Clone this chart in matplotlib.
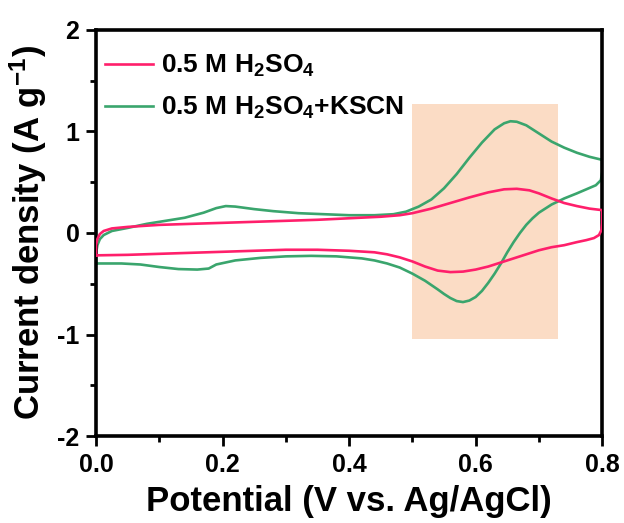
import matplotlib
matplotlib.use("Agg")
import matplotlib.pyplot as plt
from matplotlib.ticker import MultipleLocator

plt.rcParams['font.family'] = ['Liberation Sans', 'DejaVu Sans']
plt.rcParams['font.weight'] = 'bold'
plt.rcParams['mathtext.fontset'] = 'custom'
plt.rcParams['mathtext.rm'] = 'Liberation Sans:bold'
plt.rcParams['mathtext.it'] = 'Liberation Sans:bold'
plt.rcParams['mathtext.bf'] = 'Liberation Sans:bold'
plt.rcParams['mathtext.default'] = 'rm'

# CV loop, 0.5 M H2SO4: anodic sweep then cathodic sweep
h2so4_v = [0.000, 0.000, 0.002, 0.006, 0.012, 0.025, 0.05, 0.10, 0.15, 0.20, 0.25, 0.30,
           0.35, 0.40, 0.45, 0.48, 0.50, 0.53, 0.56, 0.59, 0.62, 0.645, 0.665, 0.685,
           0.70, 0.72, 0.74, 0.76, 0.78, 0.80,
           0.80, 0.799, 0.795, 0.787, 0.775, 0.76, 0.74, 0.72, 0.70, 0.68, 0.66, 0.64,
           0.62, 0.60, 0.58, 0.56, 0.54, 0.52, 0.50, 0.48, 0.46, 0.44, 0.40, 0.35, 0.30,
           0.25, 0.20, 0.15, 0.10, 0.05, 0.00]
h2so4_j = [-0.22, -0.12, -0.06, -0.01, 0.02, 0.045, 0.06, 0.08, 0.09, 0.10, 0.11, 0.12,
           0.13, 0.145, 0.16, 0.175, 0.195, 0.24, 0.295, 0.35, 0.40, 0.43, 0.435, 0.42,
           0.39, 0.34, 0.295, 0.265, 0.24, 0.225,
           0.10, 0.03, -0.02, -0.05, -0.07, -0.09, -0.12, -0.14, -0.17, -0.21, -0.25, -0.29,
           -0.33, -0.36, -0.38, -0.385, -0.37, -0.33, -0.28, -0.24, -0.21, -0.19, -0.175,
           -0.165, -0.165, -0.175, -0.185, -0.195, -0.205, -0.215, -0.22]

# CV loop, 0.5 M H2SO4 + KSCN
kscn_v = [0.000, 0.000, 0.002, 0.006, 0.012, 0.025, 0.05, 0.08, 0.11, 0.14, 0.17, 0.19,
          0.205, 0.22, 0.25, 0.28, 0.32, 0.36, 0.40, 0.44, 0.47, 0.49, 0.51, 0.53, 0.55,
          0.57, 0.59, 0.61, 0.63, 0.645, 0.655, 0.665, 0.68, 0.70, 0.72, 0.74, 0.76, 0.78,
          0.80,
          0.80, 0.798, 0.79, 0.775, 0.76, 0.74, 0.72, 0.70, 0.69, 0.68, 0.67, 0.66, 0.65,
          0.64, 0.63, 0.62, 0.61, 0.60, 0.59, 0.58, 0.57, 0.56, 0.55, 0.54, 0.52, 0.50,
          0.48, 0.46, 0.44, 0.42, 0.38, 0.34, 0.30, 0.26, 0.22, 0.19, 0.178, 0.16, 0.13,
          0.10, 0.07, 0.04, 0.00]
kscn_j = [-0.30, -0.20, -0.12, -0.06, -0.02, 0.02, 0.05, 0.09, 0.12, 0.15, 0.20, 0.245,
          0.265, 0.26, 0.235, 0.215, 0.195, 0.185, 0.175, 0.175, 0.185, 0.21, 0.26, 0.33,
          0.44, 0.58, 0.74, 0.89, 1.02, 1.08, 1.10, 1.095, 1.06, 0.98, 0.90, 0.84, 0.79,
          0.75, 0.72,
          0.60, 0.52, 0.47, 0.43, 0.39, 0.34, 0.28, 0.20, 0.145, 0.08, 0.0, -0.09, -0.19,
          -0.30, -0.40, -0.49, -0.57, -0.63, -0.665, -0.68, -0.67, -0.64, -0.60, -0.555,
          -0.47, -0.40, -0.34, -0.30, -0.27, -0.25, -0.23, -0.225, -0.23, -0.245, -0.27,
          -0.31, -0.35, -0.36, -0.355, -0.335, -0.31, -0.30, -0.30]

# Highlighted redox window
band_v = (0.50, 0.73)
band_j = (-1.04, 1.27)

fig = plt.figure(figsize=(6.24, 5.23), dpi=100)
ax = fig.add_axes([0.154, 0.166, 0.811, 0.777])

ax.fill_between(band_v, band_j[0], band_j[1], color='#fbdcc5', lw=0, zorder=0)

ax.plot(h2so4_v, h2so4_j, color='#ff1f6b', lw=1.9, label=r'0.5 M H$_2$SO$_4$', zorder=3)
ax.plot(kscn_v, kscn_j, color='#3aa56d', lw=1.9, label=r'0.5 M H$_2$SO$_4$+KSCN', zorder=2)

ax.set_xlim(0, 0.8)
ax.set_ylim(-2, 2)
ax.xaxis.set_minor_locator(MultipleLocator(0.1))
ax.yaxis.set_minor_locator(MultipleLocator(0.5))
ax.set_xticks([0.0, 0.2, 0.4, 0.6, 0.8])
ax.set_xticklabels(['0.0', '0.2', '0.4', '0.6', '0.8'], fontsize=18, fontweight='bold')
ax.set_yticks([-2, -1, 0, 1, 2])
ax.set_yticklabels(['-2', '-1', '0', '1', '2'], fontsize=18, fontweight='bold')
ax.tick_params(which='major', direction='out', length=7, width=2, pad=5)
ax.tick_params(which='minor', direction='out', length=4, width=2)
for s in ax.spines.values():
    s.set_linewidth(2.6)

ax.set_xlabel('Potential (V vs. Ag/AgCl)', fontsize=25, fontweight='bold', labelpad=6)
ax.set_ylabel(r'Current density (A g$^{-1}$)', fontsize=25, fontweight='bold', labelpad=6)

leg = ax.legend(loc='upper left', frameon=False, fontsize=19, handlelength=1.85,
                handletextpad=0.3, labelspacing=0.6, borderaxespad=0.4,
                bbox_to_anchor=(-0.025, 0.995))
for t in leg.get_texts():
    t.set_fontweight('bold')

fig.savefig('out.png', dpi=100)
